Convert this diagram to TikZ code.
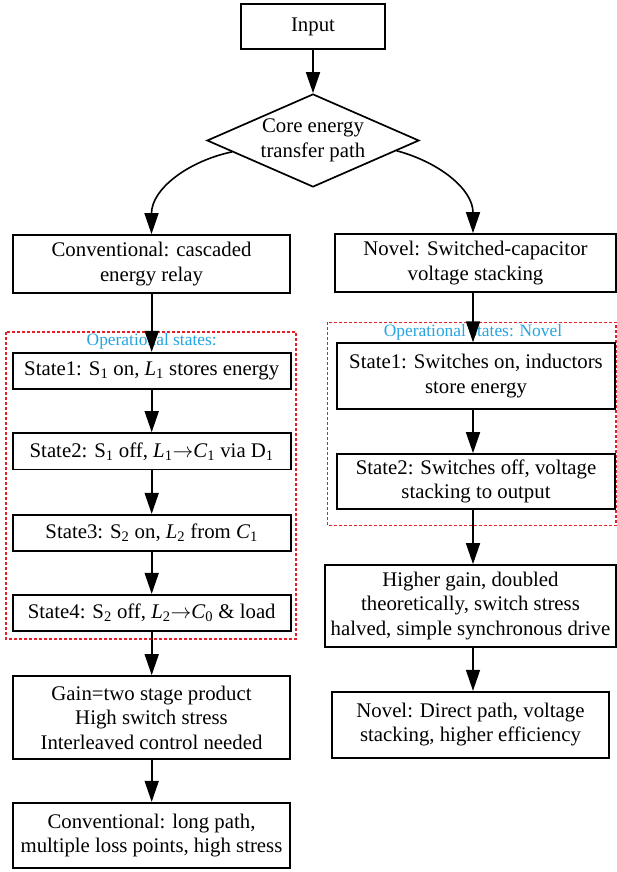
\documentclass[tikz,border=0pt]{standalone}
\usepackage{fontspec}
\setmainfont{Liberation Serif}
\usetikzlibrary{arrows.meta,shapes.geometric}
\definecolor{opcyan}{RGB}{35,165,225}
\definecolor{framered}{RGB}{230,30,40}

\begin{document}
\begin{tikzpicture}[
    x=1pt, y=1pt,
    box/.style={draw, line width=1.7pt, align=center, inner sep=2pt,
      font=\fontsize{20.8}{24.5}\selectfont},
    arr/.style={-{Triangle[length=21pt,width=14pt]}, line width=1.6pt},
    stateframe/.style={draw=framered, line width=1.5pt, dash pattern=on 3pt off 2pt},
    oplabel/.style={text=opcyan, inner sep=0pt, font=\fontsize{17.4}{20}\selectfont}
  ]
  \useasboundingbox (0,0) rectangle (617,-872);
  \coordinate (lcol) at (151.7,0);
  \coordinate (rcol) at (473,0);

  % --- input and decision ---
  \node[box, minimum width=144pt, minimum height=45pt] (input) at (313,-26.5) {Input};
  \node[box, diamond, shape aspect=2.28, inner sep=0pt, minimum width=212pt, minimum height=93pt]
    (core) at (313,-140.5) {Core energy\\transfer path};

  % --- conventional (left) ---
  \node[box, minimum width=277pt, minimum height=58pt] (conv) at (151.5,-264)
    {Conventional: cascaded\\energy relay};
  \draw[stateframe] (6,-332) rectangle (296,-639);
  \node[oplabel] (oplabel1) at (151.7,-341.7) {Operational states:};
  \node[box, minimum width=278pt, minimum height=36.5pt] (cs1) at (151.7,-371)
    {State1: S\textsubscript{1} on, \textit{L}\textsubscript{1} stores energy};
  \node[box, minimum width=278pt, minimum height=36.5pt] (cs2) at (151.7,-451.3)
    {State2: S\textsubscript{1} off, \textit{L}\textsubscript{1}$\rightarrow$\textit{C}\textsubscript{1} via D\textsubscript{1}};
  \node[box, minimum width=278pt, minimum height=36.5pt] (cs3) at (151.7,-533)
    {State3: S\textsubscript{2} on, \textit{L}\textsubscript{2} from \textit{C}\textsubscript{1}};
  \node[box, minimum width=278pt, minimum height=36.5pt] (cs4) at (151.7,-613)
    {State4: S\textsubscript{2} off, \textit{L}\textsubscript{2}$\rightarrow$\textit{C}\textsubscript{0} \& load};
  \node[box, minimum width=277pt, minimum height=83pt] (gain) at (151.5,-717.5)
    {Gain=two stage product\\High switch stress\\Interleaved control needed};
  \node[box, minimum width=277pt, minimum height=65.5pt] (convend) at (151.5,-835.5)
    {Conventional: long path,\\multiple loss points, high stress};

  % --- novel (right) ---
  \node[box, minimum width=281pt, minimum height=58pt] (novel) at (475.5,-263)
    {Novel: Switched-capacitor\\voltage stacking};
  \draw[stateframe] (327.3,-322.3) rectangle (616,-525.7);
  \node[oplabel] (oplabel2) at (473,-332.7) {Operational states: Novel};
  \node[box, minimum width=278pt, minimum height=65.7pt] (ns1) at (476,-376)
    {State1: Switches on, inductors\\store energy};
  \node[box, minimum width=278pt, minimum height=55pt] (ns2) at (476,-481.5)
    {State2: Switches off, voltage\\stacking to output};
  \node[box, minimum width=291pt, minimum height=82pt] (higher) at (470.5,-606)
    {Higher gain, doubled\\theoretically, switch stress\\halved, simple synchronous drive};
  \node[box, minimum width=277.6pt, minimum height=66pt] (direct) at (470.5,-724.7)
    {Novel: Direct path, voltage\\stacking, higher efficiency};

  % --- arrows ---
  \draw[arr] (input) -- (core);
  \draw[arr] (core.188) to[out=192, in=90] (conv.north);
  \draw[arr] (core.-7) to[out=-15, in=90] (novel.north -| rcol);

  \draw[arr] (conv.south -| lcol) -- (cs1.north -| lcol);
  \draw[arr] (cs1.south -| lcol) -- (cs2.north -| lcol);
  \draw[arr] (cs2.south -| lcol) -- (cs3.north -| lcol);
  \draw[arr] (cs3.south -| lcol) -- (cs4.north -| lcol);
  \draw[arr] (cs4.south -| lcol) -- (gain.north -| lcol);
  \draw[arr] (gain.south -| lcol) -- (convend.north -| lcol);

  \draw[arr] (novel.south -| rcol) -- (ns1.north -| rcol);
  \draw[arr] (ns1.south -| rcol) -- (ns2.north -| rcol);
  \draw[arr] (ns2.south -| rcol) -- (higher.north -| rcol);
  \draw[arr] (higher.south -| rcol) -- (direct.north -| rcol);

\end{tikzpicture}
\end{document}
